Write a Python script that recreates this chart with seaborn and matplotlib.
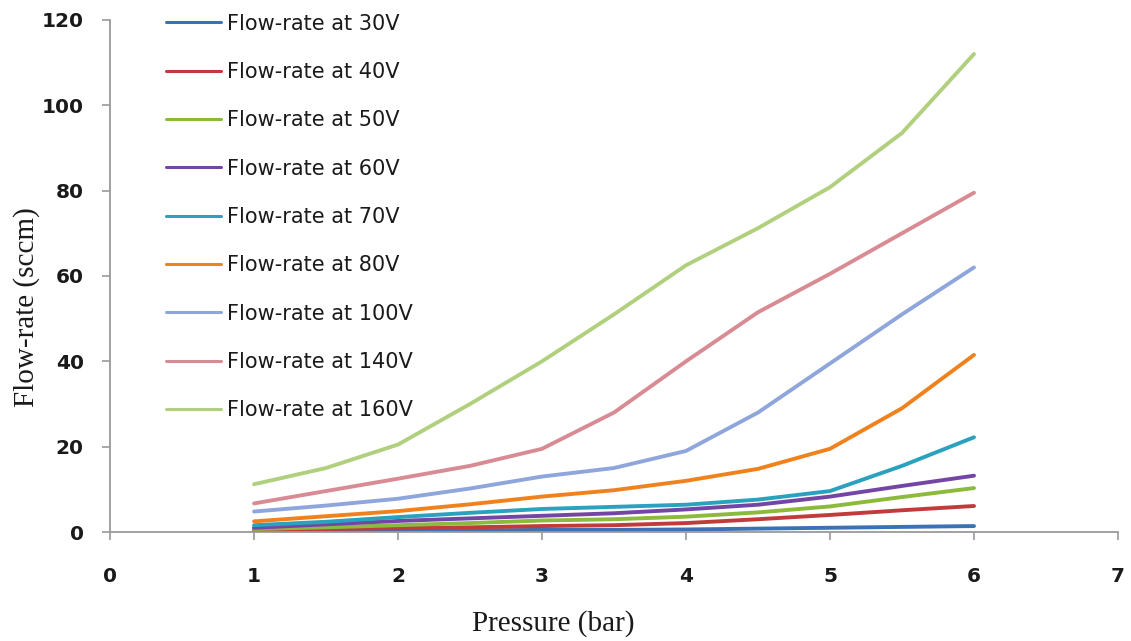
import matplotlib
matplotlib.use("Agg")
import matplotlib.pyplot as plt
import numpy as np
import pandas as pd
import seaborn as sns

# values (pressure in bar, flow in sccm)
pressure = [1, 1.5, 2, 2.5, 3, 3.5, 4, 4.5, 5, 5.5, 6]
flow_30v = [0.3, 0.3, 0.4, 0.4, 0.5, 0.5, 0.6, 0.8, 1.0, 1.2, 1.4]
flow_40v = [0.5, 0.7, 0.9, 1.1, 1.4, 1.6, 2.1, 3.0, 4.0, 5.1, 6.1]
flow_50v = [0.7, 1.1, 1.6, 2.1, 2.7, 3.0, 3.6, 4.6, 6.0, 8.2, 10.3]
flow_60v = [1.0, 1.8, 2.6, 3.2, 3.8, 4.4, 5.3, 6.4, 8.3, 10.8, 13.2]
flow_70v = [1.6, 2.4, 3.5, 4.5, 5.4, 5.9, 6.4, 7.6, 9.6, 15.5, 22.2]
flow_80v = [2.5, 3.7, 4.9, 6.5, 8.3, 9.8, 12.0, 14.8, 19.5, 29.0, 41.5]
flow_100v = [4.8, 6.2, 7.8, 10.2, 13.0, 15.0, 19.0, 28.0, 39.5, 51.0, 62.0]
flow_140v = [6.7, 9.6, 12.5, 15.5, 19.5, 28.0, 40.0, 51.5, 60.5, 70.0, 79.5]
flow_160v = [11.2, 15.0, 20.5, 30.0, 40.0, 51.0, 62.5, 71.2, 80.8, 93.5, 112.0]

series_names = ["Flow-rate at 30V", "Flow-rate at 40V", "Flow-rate at 50V",
                "Flow-rate at 60V", "Flow-rate at 70V", "Flow-rate at 80V",
                "Flow-rate at 100V", "Flow-rate at 140V", "Flow-rate at 160V"]
series_values = [flow_30v, flow_40v, flow_50v, flow_60v, flow_70v, flow_80v,
                 flow_100v, flow_140v, flow_160v]
colors = ["#3b72b6", "#c23b3b", "#8cba3c", "#7345a5", "#2aa2bd",
          "#f0821e", "#8fa6dc", "#d98b94", "#b0d07e"]

x_ticks = [0, 1, 2, 3, 4, 5, 6, 7]
y_ticks = [0, 20, 40, 60, 80, 100, 120]

rows = []
for name, vals in zip(series_names, series_values):
    for p, v in zip(pressure, vals):
        rows.append({"pressure": p, "flow": v, "series": name})
df = pd.DataFrame(rows)

sns.set_style("ticks")
plt.rcParams["font.family"] = ["DejaVu Sans"]

fig = plt.figure(figsize=(11.31, 6.41), dpi=100)
ax = fig.add_axes([0.0973, 0.170, 0.8912, 0.799])

sns.lineplot(data=df, x="pressure", y="flow", hue="series",
             hue_order=series_names, palette=dict(zip(series_names, colors)),
             linewidth=2.8, ax=ax, legend=True)

ax.set_xlim(0, 7)
ax.set_ylim(0, 120)
ax.set_xticks(x_ticks)
ax.set_yticks(y_ticks)

for side in ["top", "right"]:
    ax.spines[side].set_visible(False)
for side in ["left", "bottom"]:
    ax.spines[side].set_color("#9a9a9a")
    ax.spines[side].set_linewidth(1.3)

ax.tick_params(axis="y", direction="out", length=6, width=1.2,
               color="#9a9a9a", pad=13, labelsize=14.5)
ax.tick_params(axis="x", direction="out", length=6, width=1.2,
               color="#9a9a9a", pad=19, labelsize=14.5)
for lab in ax.get_xticklabels() + ax.get_yticklabels():
    lab.set_fontweight("bold")
    lab.set_color("#1a1a1a")

ax.set_xlabel("Pressure (bar)", family="Liberation Serif", fontsize=21,
              color="#1a1a1a")
ax.set_ylabel("Flow-rate (sccm)", family="Liberation Serif", fontsize=21,
              color="#1a1a1a")
ax.xaxis.set_label_coords(0.44, -0.152)
ax.yaxis.set_label_coords(-0.069, 0.44)

handles, labels = ax.get_legend_handles_labels()
leg = ax.legend(handles, labels, loc="upper left",
                bbox_to_anchor=(0.056, 1.012), frameon=False,
                fontsize=15, labelspacing=1.36, handlelength=2.6,
                handletextpad=0.3, borderpad=0, borderaxespad=0)
for line in leg.get_lines():
    line.set_linewidth(2.2)
for txt in leg.get_texts():
    txt.set_color("#1a1a1a")

fig.savefig("out.png", dpi=100)
